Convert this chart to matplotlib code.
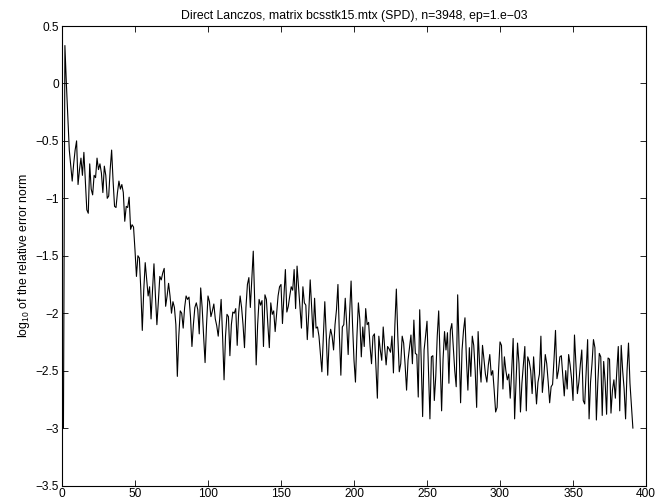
import numpy as np
import matplotlib
matplotlib.use('Agg')
import matplotlib.pyplot as plt

plt.rcParams['font.family'] = ['Liberation Sans', 'DejaVu Sans']
plt.rcParams['mathtext.fontset'] = 'custom'
plt.rcParams['mathtext.rm'] = 'Liberation Sans'
plt.rcParams['mathtext.it'] = 'Liberation Sans:italic'

# log10 of relative error norm, one value per Lanczos iteration
log_err = [
    -3.0, 0.33, 0.0, -0.3, -0.58, -0.72, -0.85, -0.7, -0.58, -0.5,
    -0.88, -0.75, -0.65, -0.8, -0.6, -0.85, -1.1, -1.13, -0.7, -0.92,
    -0.97, -0.8, -0.82, -0.65, -0.75, -0.7, -0.78, -0.95, -0.72, -0.8,
    -1.0, -0.98, -0.75, -0.58, -0.85, -1.07, -1.08, -0.95, -0.85, -0.92,
    -0.88, -0.95, -1.2, -1.07, -1.08, -0.99, -1.27, -1.23, -1.25, -1.45,
    -1.68, -1.5, -1.52, -1.8, -2.15, -1.8, -1.56, -1.7, -1.85, -1.77,
    -2.05, -1.8, -1.57, -1.85, -2.1, -1.9, -1.68, -1.71, -1.65, -1.61,
    -1.94, -1.85, -1.74, -1.85, -2.0, -1.9, -1.95, -2.1, -2.55, -2.2,
    -1.98, -2.0, -2.13, -1.95, -1.85, -1.88, -1.86, -2.03, -2.29, -2.1,
    -1.95, -1.91, -1.97, -2.18, -1.78, -1.95, -2.2, -2.43, -2.1, -1.85,
    -1.9, -2.03, -1.98, -1.92, -2.05, -2.11, -2.2, -2.05, -1.88, -2.2,
    -2.58, -2.2, -2.01, -2.03, -2.37, -2.1, -1.99, -2.0, -1.96, -2.28,
    -2.0, -1.85, -1.95, -2.1, -2.3, -1.95, -1.75, -1.69, -1.95, -1.7,
    -1.46, -1.9, -2.45, -2.1, -1.88, -1.93, -1.89, -2.29, -1.84, -1.88,
    -2.1, -2.3, -1.91, -2.01, -1.98, -2.16, -2.0, -1.85, -1.77, -1.75,
    -2.09, -1.85, -1.62, -1.99, -1.94, -1.85, -1.77, -1.8, -1.62, -1.96,
    -1.59, -1.77, -1.95, -2.13, -1.77, -1.91, -1.93, -2.23, -2.0, -1.71,
    -1.95, -2.21, -1.87, -2.13, -2.12, -2.2, -2.35, -2.51, -2.2, -1.9,
    -2.2, -2.54, -2.23, -2.14, -2.2, -2.32, -2.1, -1.97, -1.75, -2.2,
    -2.54, -2.12, -2.1, -1.87, -2.1, -2.36, -2.0, -1.72, -2.1, -2.41,
    -2.6, -2.2, -1.91, -2.06, -2.38, -2.12, -2.29, -1.96, -2.1, -2.08,
    -2.29, -2.44, -2.2, -2.18, -2.45, -2.74, -2.2, -2.32, -2.41, -2.12,
    -2.3, -2.45, -2.29, -2.31, -2.34, -2.2, -2.52, -2.1, -1.79, -2.2,
    -2.51, -2.44, -2.2, -2.26, -2.45, -2.67, -2.41, -2.3, -2.19, -2.44,
    -2.06, -2.35, -2.36, -2.73, -1.97, -2.4, -2.9, -2.32, -2.2, -2.07,
    -2.5, -2.92, -2.38, -2.37, -2.76, -2.55, -2.2, -1.98, -2.4, -2.85,
    -2.4, -2.16, -2.32, -2.17, -2.61, -2.15, -2.09, -2.3, -2.5, -2.64,
    -1.84, -2.3, -2.78, -2.32, -2.15, -2.04, -2.4, -2.67, -2.3, -2.55,
    -2.2, -2.28, -2.5, -2.82, -2.16, -2.44, -2.6, -2.28, -2.4, -2.53,
    -2.6, -2.45, -2.36, -2.54, -2.5, -2.67, -2.86, -2.82, -2.5, -2.25,
    -2.28, -2.66, -2.38, -2.5, -2.58, -2.53, -2.74, -2.5, -2.22, -2.92,
    -2.58, -2.26, -2.44, -2.86, -2.61, -2.45, -2.29, -2.85, -2.38, -2.42,
    -2.5, -2.7, -2.38, -2.58, -2.79, -2.6, -2.53, -2.2, -2.69, -2.55,
    -2.36, -2.44, -2.6, -2.78, -2.64, -2.62, -2.4, -2.15, -2.57, -2.5,
    -2.38, -2.37, -2.55, -2.72, -2.5, -2.66, -2.36, -2.45, -2.57, -2.76,
    -2.19, -2.45, -2.7, -2.6, -2.45, -2.32, -2.76, -2.79, -2.5, -2.23,
    -2.92, -2.6, -2.44, -2.23, -2.3, -2.93, -2.6, -2.35, -2.38, -2.89,
    -2.42, -2.6, -2.88, -2.39, -2.4, -2.87, -2.67, -2.58, -2.74, -2.5,
    -2.29, -2.85, -2.28, -2.5, -2.66, -2.92, -2.5, -2.26, -2.61, -2.8,
    -3.0,
]
iters = np.arange(1, len(log_err) + 1)

xticks = [0, 50, 100, 150, 200, 250, 300, 350, 400]
yticks = [-3.5, -3, -2.5, -2, -1.5, -1, -0.5, 0, 0.5]
ytick_labels = ['\u22123.5', '\u22123', '\u22122.5', '\u22122', '\u22121.5',
                '\u22121', '\u22120.5', '0', '0.5']

fig = plt.figure(figsize=(6.58, 5.04), dpi=100)
ax = fig.add_axes([0.0942, 0.0367, 0.8876, 0.9117])

ax.plot(iters, log_err, color='black', linewidth=0.8)

ax.set_xlim(0, 400)
ax.set_ylim(-3.5, 0.5)
ax.set_xticks(xticks)
ax.set_xticklabels([str(t) for t in xticks])
ax.set_yticks(yticks)
ax.set_yticklabels(ytick_labels)
ax.tick_params(direction='in', length=4, width=0.6, labelsize=8.6,
               top=True, right=True, pad=2)
for sp in ax.spines.values():
    sp.set_linewidth(0.8)

ax.set_ylabel('log$_{10}$ of the relative error norm', fontsize=8.8, labelpad=3)
ax.set_title('Direct Lanczos, matrix bcsstk15.mtx (SPD), n=3948, ep=1.e\u221203',
             fontsize=8.8, pad=5)

fig.savefig('out.png', dpi=100)
